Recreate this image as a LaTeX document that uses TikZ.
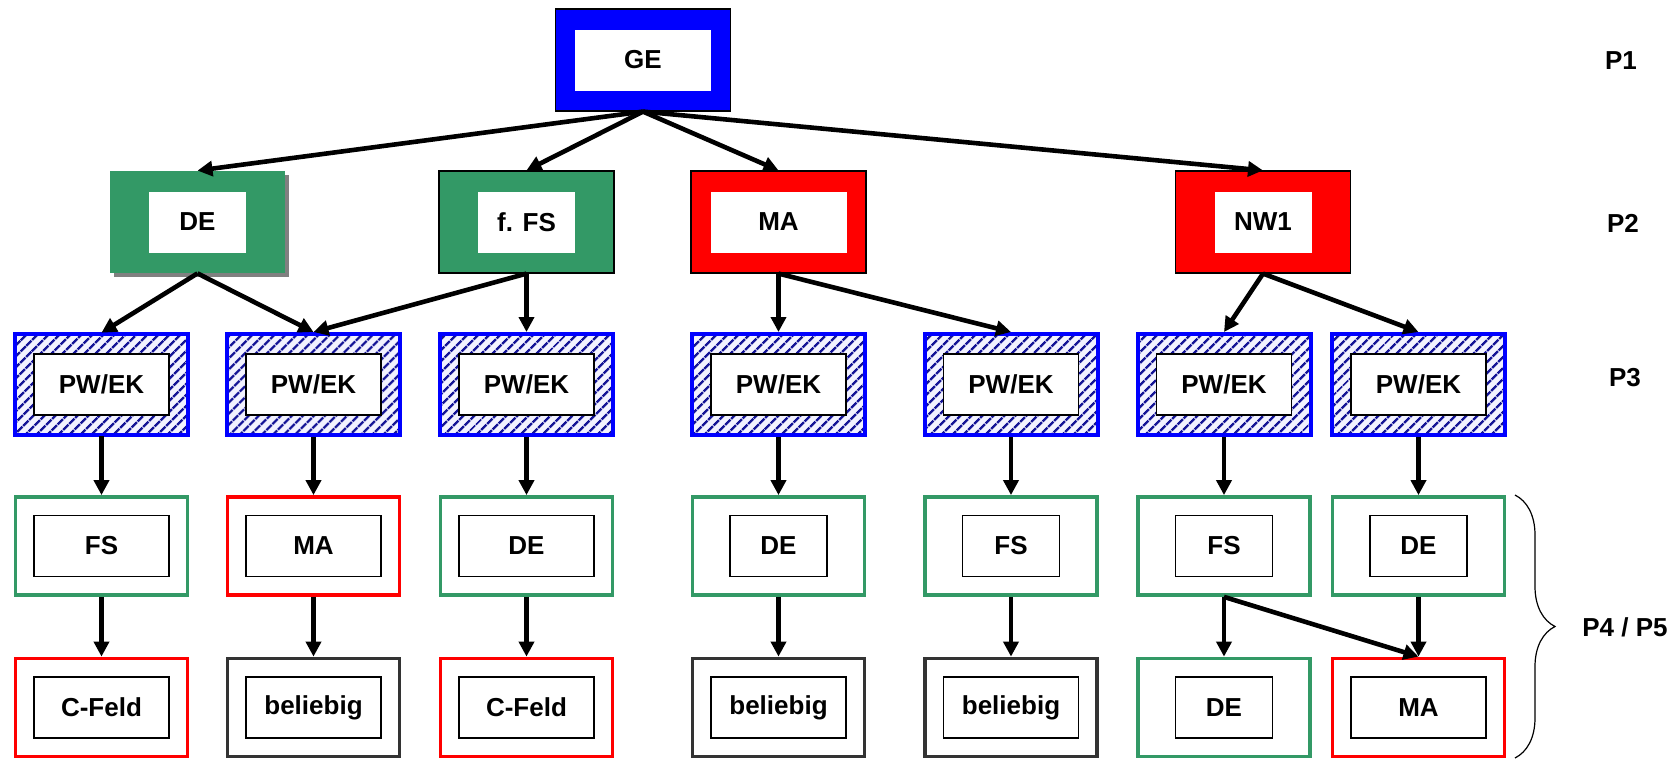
\documentclass[tikz,border=0pt]{standalone}
\usepackage{fontspec}
\setmainfont{Liberation Sans}
\usetikzlibrary{arrows.meta}
\usetikzlibrary{patterns.meta}
\usetikzlibrary{shadows}
\usetikzlibrary{decorations.pathreplacing}
\definecolor{seagreen}{RGB}{51,153,102}
\definecolor{hatchblue}{RGB}{20,20,150}
\definecolor{darkframe}{RGB}{51,51,51}

\tikzset{
  txt/.style={font=\bfseries\fontsize{13}{15}\selectfont},
  outer/.style={minimum width=87.5pt, minimum height=51pt, inner sep=0pt},
  inner/.style={txt, fill=white, minimum width=68pt, minimum height=30.5pt, inner sep=0pt},
  framed/.style={inner, draw=black, line width=0.6pt, minimum width=67.5pt},
  narrow/.style={minimum width=48.5pt},
  wide/.style={},
  hatched/.style={outer, draw=blue, line width=2pt, minimum width=86.5pt, minimum height=50.5pt,
    preaction={fill=blue!5}, pattern={Lines[angle=45,distance=4pt,line width=1.3pt]}, pattern color=hatchblue},
  frame/.style={outer, fill=white, line width=1.9pt, minimum width=86pt, minimum height=49pt},
  conn/.style={line width=2.3pt, -{Triangle[length=7.5pt,width=7.5pt]}},
}

\begin{document}
\begin{tikzpicture}[x=0.5pt, y=-0.5pt]
    \useasboundingbox (0,0) rectangle (1677,760);
    % P1
    \node[outer, fill=blue, draw=black, line width=0.6pt] (ge) at (643,60) {};
    \node[inner] (ge-txt) at (ge) {GE};

    % P2
    \node[outer, fill=seagreen, drop shadow={shadow xshift=2pt, shadow yshift=-2pt, fill=gray, opacity=1}] (de) at (197.5,222) {};
    \node[inner, narrow] (de-txt) at (de) {DE};
    \node[outer, fill=seagreen, draw=black, line width=0.6pt] (ffs) at (526.5,222) {};
    \node[inner, narrow] (ffs-txt) at (ffs) {f. FS};
    \node[outer, fill=red, draw=black, line width=0.6pt] (ma) at (778.5,222) {};
    \node[inner] (ma-txt) at (ma) {MA};
    \node[outer, fill=red, draw=black, line width=0.6pt] (nw) at (1263,222) {};
    \node[inner, narrow] (nw-txt) at (nw) {NW1};

    % P3
    \foreach \i/\x in {1/101.5, 2/313.5, 3/526.5, 4/778.5, 5/1011, 6/1224, 7/1418.5} {
      \node[hatched] (pw\i) at (\x,384.5) {};
      \node[framed] (pw\i-txt) at (pw\i) {PW/EK};
    }

    % P4 / P5
    \foreach \i/\x/\col/\lbl/\w in {1/101.5/seagreen/FS/wide, 2/313.5/red/MA/wide, 3/526.5/seagreen/DE/wide,
        4/778.5/seagreen/DE/narrow, 5/1011/seagreen/FS/narrow, 6/1224/seagreen/FS/narrow, 7/1418.5/seagreen/DE/narrow} {
      \node[frame, draw=\col] (lvfour\i) at (\x,546) {};
      \node[framed, \w] (lvfour\i-txt) at (lvfour\i) {\lbl};
    }
    \foreach \i/\x/\col/\lbl/\w in {1/101.5/red/C-Feld/wide, 2/313.5/darkframe/beliebig/wide, 3/526.5/red/C-Feld/wide,
        4/778.5/darkframe/beliebig/wide, 5/1011/darkframe/beliebig/wide, 6/1224/seagreen/DE/narrow, 7/1418.5/red/MA/wide} {
      \node[frame, draw=\col] (lvfive\i) at (\x,707.5) {};
      \node[framed, \w] (lvfive\i-txt) at (lvfive\i) {\lbl};
    }

    % arrows
    \draw[conn] (ge.south) -- (de.north);
    \draw[conn] (ge.south) -- (ffs.north);
    \draw[conn] (ge.south) -- (ma.north);
    \draw[conn] (ge.south) -- (nw.north);
    \draw[conn] (de.south) -- (pw1.north);
    \draw[conn] (de.south) -- (pw2.north);
    \draw[conn] (ffs.south) -- (pw2.north);
    \draw[conn] (ffs.south) -- (pw3.north);
    \draw[conn] (ma.south) -- (pw4.north);
    \draw[conn] (ma.south) -- (pw5.north);
    \draw[conn] (nw.south) -- (pw6.north);
    \draw[conn] (nw.south) -- (pw7.north);
    \foreach \i in {1,...,7}
      \draw[conn] (pw\i) -- (lvfour\i);
    \foreach \i in {1,...,5}
      \draw[conn] (lvfour\i) -- (lvfive\i);
    \draw[conn] (lvfour6) -- (lvfive6);
    \draw[conn] (lvfour6.south) -- (lvfive7.north);
    \draw[conn] (lvfour7) -- (lvfive7);

    % levels
    \node[txt] (p1) at (1621,61) {P1};
    \node[txt] (p2) at (1623,223) {P2};
    \node[txt] (p3) at (1625,378) {P3};
    \draw[line width=0.6pt, decorate, decoration={brace, amplitude=20pt}] (1515,495) -- (1515,758);
    \node[txt] (p45) at (1625,627) {P4 / P5};
\end{tikzpicture}
\end{document}
